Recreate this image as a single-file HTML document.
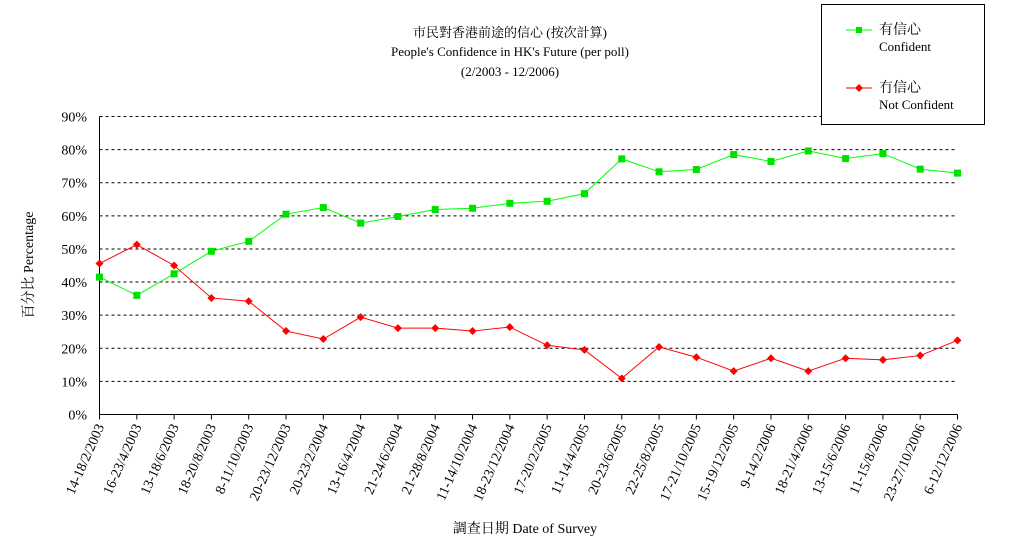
<!DOCTYPE html>
<html><head><meta charset="utf-8"><style>
body{margin:0;background:#fff;}
svg text{font-family:"Liberation Serif","Noto Serif CJK SC","Noto Sans CJK TC",serif;fill:#000;}
</style></head><body>
<svg width="1020" height="546" id="chart">
<g>
<text x="510" y="37" font-size="13" text-anchor="middle">市民對香港前途的信心 (按次計算)</text>
<text x="510" y="56" font-size="13" text-anchor="middle">People's Confidence in HK's Future (per poll)</text>
<text x="510" y="76" font-size="13" text-anchor="middle">(2/2003 - 12/2006)</text>
</g>
<text transform="translate(33,265) rotate(-90)" font-size="14" text-anchor="middle">百分比 Percentage</text>
<text x="525" y="533" font-size="14" text-anchor="middle">調查日期 Date of Survey</text>
<g id="grid"></g><g id="axes"></g><g id="series"></g>
<g>
<rect x="821.5" y="4.5" width="163" height="120" fill="#fff" stroke="#000"/>
<line x1="846" y1="30" x2="872" y2="30" stroke="#00ff00"/><rect x="856" y="27" width="6" height="6" fill="#00e000"/>
<text x="879" y="34" font-size="14">有信心</text><text x="879" y="51" font-size="13">Confident</text>
<line x1="846" y1="88" x2="872" y2="88" stroke="#ff0000"/><path d="M859 84L863 88L859 92L855 88Z" fill="#ff0000"/>
<text x="879" y="92" font-size="14">冇信心</text><text x="879" y="109" font-size="13">Not Confident</text>
</g>
</svg>
<script>
const categories=["14-18/2/2003","16-23/4/2003","13-18/6/2003","18-20/8/2003","8-11/10/2003","20-23/12/2003","20-23/2/2004","13-16/4/2004","21-24/6/2004","21-28/8/2004","11-14/10/2004","18-23/12/2004","17-20/2/2005","11-14/4/2005","20-23/6/2005","22-25/8/2005","17-21/10/2005","15-19/12/2005","9-14/2/2006","18-21/4/2006","13-15/6/2006","11-15/8/2006","23-27/10/2006","6-12/12/2006"];
const confident=[41.5,36,42.5,49.3,52.3,60.5,62.5,57.8,59.8,61.9,62.3,63.8,64.4,66.7,77.2,73.3,74,78.5,76.4,79.6,77.3,78.8,74.1,72.9];
const notConfident=[45.6,51.3,45,35.2,34.2,25.2,22.8,29.4,26.1,26.1,25.2,26.4,20.9,19.5,10.9,20.4,17.3,13.1,17,13.1,17,16.5,17.8,22.4];
const yTicks=[0,10,20,30,40,50,60,70,80,90];
const NS="http://www.w3.org/2000/svg";
const X0=99.5,X1=957.5,Y0=414.5,Y1=116.5;
const x=i=>X0+i*(X1-X0)/(categories.length-1);
const y=v=>Y0-v*(Y0-Y1)/90;
function mk(t,a,p){const e=document.createElementNS(NS,t);for(const k in a)e.setAttribute(k,a[k]);p.appendChild(e);return e;}
const grid=document.getElementById('grid'),axes=document.getElementById('axes'),ser=document.getElementById('series');
yTicks.forEach(v=>{
 if(v>0){const l=mk('line',{x1:X0,x2:X1,y1:y(v),y2:y(v),stroke:'#000','stroke-dasharray':'3,3'},grid);
 
 }
 const t=mk('text',{x:87,y:y(v)+5,'font-size':14,'text-anchor':'end'},axes);t.textContent=v+'%';
 
 
});
mk('line',{x1:X0,x2:X0,y1:Y1,y2:Y0,stroke:'#000'},axes);
mk('line',{x1:X0,x2:X1,y1:Y0,y2:Y0,stroke:'#000'},axes);
categories.forEach((c,i)=>{
 mk('line',{x1:x(i),x2:x(i),y1:Y0,y2:Y0+5,stroke:'#000'},axes);
 const t=mk('text',{transform:`translate(${x(i)+5},${Y0+12}) rotate(-66)`,'font-size':14,'text-anchor':'end'},axes);t.textContent=c;
 
 
});
function line(data,color,name,sq){
 const p=mk('polyline',{points:data.map((v,i)=>x(i)+','+y(v)).join(' '),fill:'none',stroke:color,'stroke-width':1},ser);
 
 
 data.forEach((v,i)=>{
  const m=sq?mk('rect',{x:x(i)-3.5,y:y(v)-3.5,width:7,height:7,fill:'#00e000'},ser):
   mk('path',{d:`M${x(i)} ${y(v)-4}L${x(i)+4} ${y(v)}L${x(i)} ${y(v)+4}L${x(i)-4} ${y(v)}Z`,fill:'#ff0000'},ser);
  
  
 });
}
line(confident,'#00ff00','confident',true);
line(notConfident,'#ff0000','not-confident',false);
</script>
</body></html>
